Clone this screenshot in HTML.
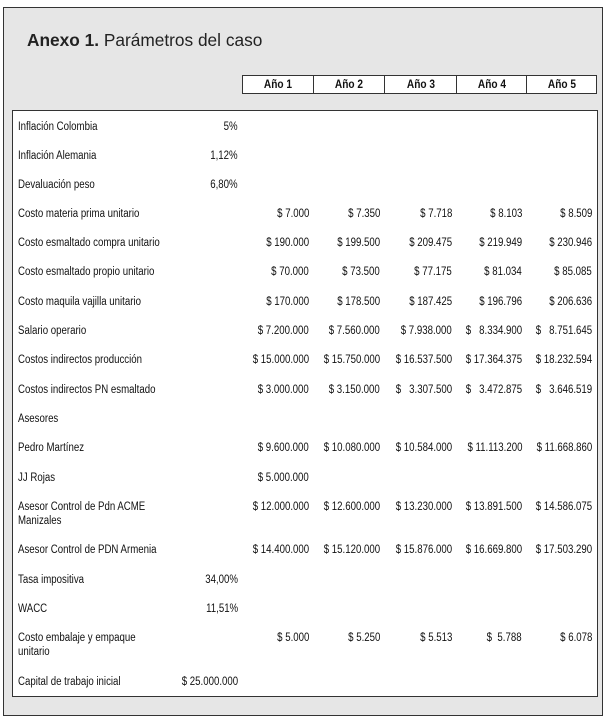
<!DOCTYPE html>
<html><head><meta charset="utf-8"><style>
html,body{margin:0;padding:0;background:#fff;width:609px;height:721px;overflow:hidden}
body{position:relative;font-family:"Liberation Sans",sans-serif;font-size:11.5px;color:#111}
.outer{position:absolute;left:3px;top:7px;width:600px;height:709px;background:#e6e6e6;border:1px solid #333;box-sizing:border-box}
.inner{position:absolute;left:12px;top:110px;width:586px;height:587px;background:#fff;border:1px solid #333;box-sizing:border-box}
.hdr{position:absolute;top:75px;height:19px;background:#fff;border:1px solid #333;box-sizing:border-box;font-weight:bold;text-align:center;line-height:18px;font-size:11.5px}
.hdr span{display:inline-block;transform:scaleX(.88)}
.t{position:absolute;line-height:14px;white-space:nowrap;transform:scaleX(.84);transform-origin:left top;margin-top:1px}
.r{text-align:right;transform-origin:right top}
h1{position:absolute;left:27px;top:30px;margin:0;font-family:"Liberation Sans",sans-serif;font-size:17.3px;font-weight:normal;color:#222}
</style></head><body>
<div class="outer"></div>
<h1><b>Anexo 1.</b> Parámetros del caso</h1>
<div class="hdr" style="left:242px;width:72px"><span>Año 1</span></div>
<div class="hdr" style="left:313px;width:72px"><span>Año 2</span></div>
<div class="hdr" style="left:384px;width:73px"><span>Año 3</span></div>
<div class="hdr" style="left:456px;width:71px"><span>Año 4</span></div>
<div class="hdr" style="left:526px;width:71px"><span>Año 5</span></div>
<div class="inner"></div>
<div class="t" style="left:18px;top:119px">Inflación Colombia</div><div class="t r" style="right:371px;top:119px">5%</div>
<div class="t" style="left:18px;top:148px">Inflación Alemania</div><div class="t r" style="right:371px;top:148px">1,12%</div>
<div class="t" style="left:18px;top:177px">Devaluación peso</div><div class="t r" style="right:371px;top:177px">6,80%</div>

<div class="t" style="left:18px;top:206px">Costo materia prima unitario</div>
<div class="t r" style="right:300px;top:206px">$ 7.000</div><div class="t r" style="right:229px;top:206px">$ 7.350</div><div class="t r" style="right:157px;top:206px">$ 7.718</div><div class="t r" style="right:87px;top:206px">$ 8.103</div><div class="t r" style="right:17px;top:206px">$ 8.509</div>

<div class="t" style="left:18px;top:235px">Costo esmaltado compra unitario</div>
<div class="t r" style="right:300px;top:235px">$ 190.000</div><div class="t r" style="right:229px;top:235px">$ 199.500</div><div class="t r" style="right:157px;top:235px">$ 209.475</div><div class="t r" style="right:87px;top:235px">$ 219.949</div><div class="t r" style="right:17px;top:235px">$ 230.946</div>

<div class="t" style="left:18px;top:264px">Costo esmaltado propio unitario</div>
<div class="t r" style="right:300px;top:264px">$ 70.000</div><div class="t r" style="right:229px;top:264px">$ 73.500</div><div class="t r" style="right:157px;top:264px">$ 77.175</div><div class="t r" style="right:87px;top:264px">$ 81.034</div><div class="t r" style="right:17px;top:264px">$ 85.085</div>

<div class="t" style="left:18px;top:294px">Costo maquila vajilla unitario</div>
<div class="t r" style="right:300px;top:294px">$ 170.000</div><div class="t r" style="right:229px;top:294px">$ 178.500</div><div class="t r" style="right:157px;top:294px">$ 187.425</div><div class="t r" style="right:87px;top:294px">$ 196.796</div><div class="t r" style="right:17px;top:294px">$ 206.636</div>

<div class="t" style="left:18px;top:323px">Salario operario</div>
<div class="t r" style="right:300px;top:323px">$ 7.200.000</div><div class="t r" style="right:229px;top:323px">$ 7.560.000</div><div class="t r" style="right:157px;top:323px">$ 7.938.000</div><div class="t r" style="right:87px;top:323px">$&nbsp;&nbsp; 8.334.900</div><div class="t r" style="right:17px;top:323px">$&nbsp;&nbsp; 8.751.645</div>

<div class="t" style="left:18px;top:352px">Costos indirectos producción</div>
<div class="t r" style="right:300px;top:352px">$ 15.000.000</div><div class="t r" style="right:229px;top:352px">$ 15.750.000</div><div class="t r" style="right:157px;top:352px">$ 16.537.500</div><div class="t r" style="right:87px;top:352px">$ 17.364.375</div><div class="t r" style="right:17px;top:352px">$ 18.232.594</div>

<div class="t" style="left:18px;top:382px">Costos indirectos PN esmaltado</div>
<div class="t r" style="right:300px;top:382px">$ 3.000.000</div><div class="t r" style="right:229px;top:382px">$ 3.150.000</div><div class="t r" style="right:157px;top:382px">$&nbsp;&nbsp; 3.307.500</div><div class="t r" style="right:87px;top:382px">$&nbsp;&nbsp; 3.472.875</div><div class="t r" style="right:17px;top:382px">$&nbsp;&nbsp; 3.646.519</div>

<div class="t" style="left:18px;top:411px">Asesores</div>

<div class="t" style="left:18px;top:440px">Pedro Martínez</div>
<div class="t r" style="right:300px;top:440px">$ 9.600.000</div><div class="t r" style="right:229px;top:440px">$ 10.080.000</div><div class="t r" style="right:157px;top:440px">$ 10.584.000</div><div class="t r" style="right:87px;top:440px">$ 11.113.200</div><div class="t r" style="right:17px;top:440px">$ 11.668.860</div>

<div class="t" style="left:18px;top:470px">JJ Rojas</div>
<div class="t r" style="right:300px;top:470px">$ 5.000.000</div>

<div class="t" style="left:18px;top:499px">Asesor Control de Pdn ACME<br>Manizales</div>
<div class="t r" style="right:300px;top:499px">$ 12.000.000</div><div class="t r" style="right:229px;top:499px">$ 12.600.000</div><div class="t r" style="right:157px;top:499px">$ 13.230.000</div><div class="t r" style="right:87px;top:499px">$ 13.891.500</div><div class="t r" style="right:17px;top:499px">$ 14.586.075</div>

<div class="t" style="left:18px;top:542px">Asesor Control de PDN Armenia</div>
<div class="t r" style="right:300px;top:542px">$ 14.400.000</div><div class="t r" style="right:229px;top:542px">$ 15.120.000</div><div class="t r" style="right:157px;top:542px">$ 15.876.000</div><div class="t r" style="right:87px;top:542px">$ 16.669.800</div><div class="t r" style="right:17px;top:542px">$ 17.503.290</div>

<div class="t" style="left:18px;top:572px">Tasa impositiva</div><div class="t r" style="right:371px;top:572px">34,00%</div>
<div class="t" style="left:18px;top:601px">WACC</div><div class="t r" style="right:371px;top:601px">11,51%</div>

<div class="t" style="left:18px;top:630px">Costo embalaje y empaque<br>unitario</div>
<div class="t r" style="right:300px;top:630px">$ 5.000</div><div class="t r" style="right:229px;top:630px">$ 5.250</div><div class="t r" style="right:157px;top:630px">$ 5.513</div><div class="t r" style="right:87px;top:630px">$&nbsp; 5.788</div><div class="t r" style="right:17px;top:630px">$ 6.078</div>

<div class="t" style="left:18px;top:674px">Capital de trabajo inicial</div><div class="t r" style="right:371px;top:674px">$ 25.000.000</div>
</body></html>
